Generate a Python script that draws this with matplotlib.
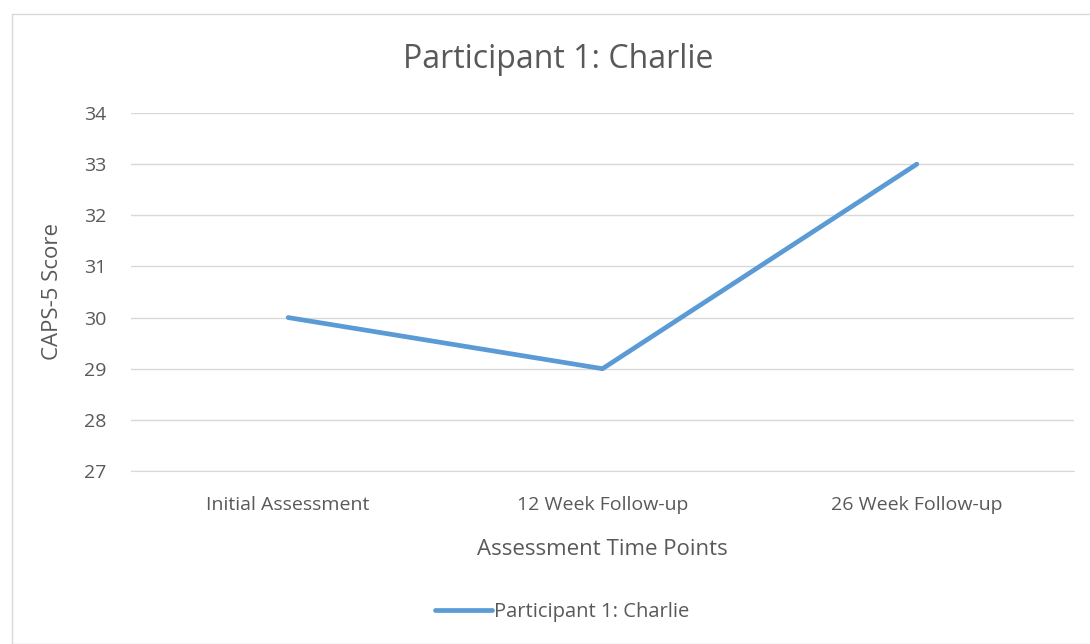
import matplotlib
matplotlib.use("Agg")
import matplotlib.pyplot as plt
from matplotlib.patches import Rectangle

plt.rcParams['font.family'] = ['Open Sans', 'DejaVu Sans']

categories = ["Initial Assessment", "12 Week Follow-up", "26 Week Follow-up"]
scores = [30, 29, 33]
series_name = "Participant 1: Charlie"
yticks = [27, 28, 29, 30, 31, 32, 33, 34]

W, H = 1090, 644
fig = plt.figure(figsize=(W/100, H/100), dpi=100)
fig.patch.set_facecolor("white")
fig.patches.append(Rectangle((12/W, 0), 1.2, (H-14)/H, transform=fig.transFigure,
                             fill=False, edgecolor="#D9D9D9", linewidth=1))

ax = fig.add_axes([131/W, 1-471/H, (1074-131)/W, (471-113)/H])
x = list(range(len(categories)))
ax.plot(x, scores, color="#5B9BD5", linewidth=3.4, solid_capstyle="round",
        label=series_name)
ax.set_xlim(-0.5, len(categories)-0.5)
ax.set_ylim(27, 34)
ax.set_yticks(yticks)
ax.set_yticklabels([str(v) for v in yticks], fontsize=14, color="#595959")
ax.set_xticks(x)
ax.set_xticklabels(categories, fontsize=14, color="#595959")
ax.grid(axis="y", color="#D9D9D9", linewidth=1)
ax.set_axisbelow(True)
for s in ["top", "right", "left"]:
    ax.spines[s].set_visible(False)
ax.spines["bottom"].set_color("#D9D9D9")
ax.tick_params(axis="x", length=0, pad=18)
ax.tick_params(axis="y", length=0, pad=18)

fig.text(558/W, 1-60/H, "Participant 1: Charlie", fontsize=23, color="#595959",
         ha="center", va="center")
ax.set_xlabel("Assessment Time Points", fontsize=16, color="#595959", labelpad=18)
ax.set_ylabel("CAPS-5 Score", fontsize=16, color="#595959", labelpad=15)

leg = fig.legend(loc="center", bbox_to_anchor=(562/W, 1-612/H), frameon=False,
                 fontsize=14.5, handlelength=2.8, handletextpad=0.1)
for t in leg.get_texts():
    t.set_color("#595959")

fig.savefig("out.png", dpi=100)
